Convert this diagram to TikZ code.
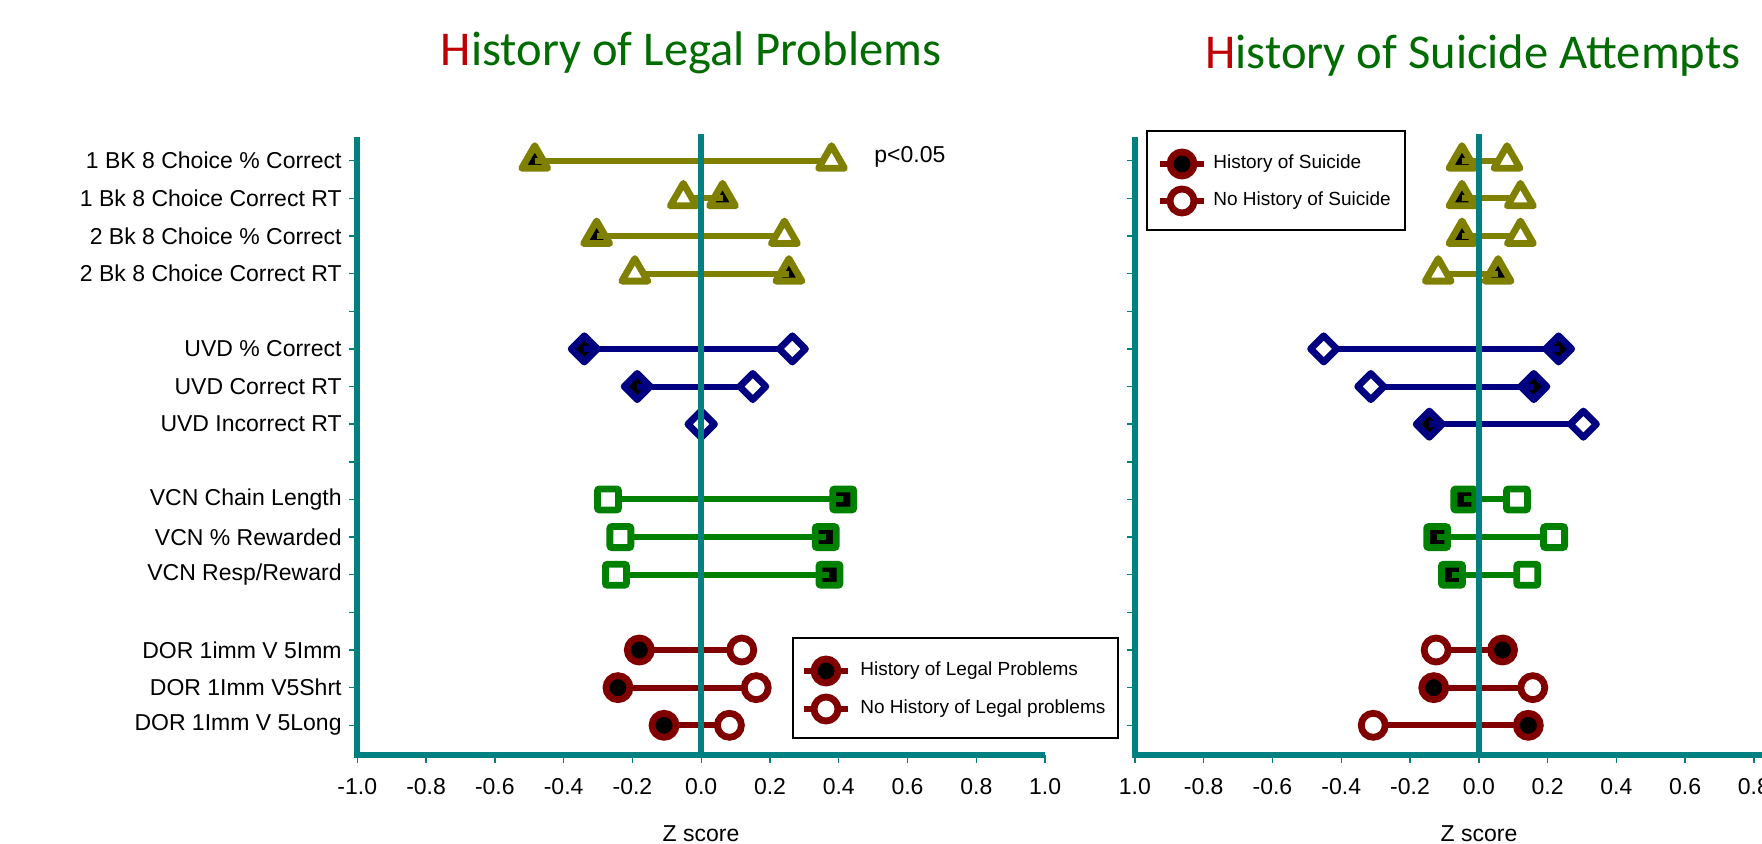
\documentclass[tikz,border=0pt]{standalone}
\usepackage{fontspec}
\setmainfont{Liberation Sans}
\newfontfamily\titlefont{Carlito}
\usepackage{tikz}
\usetikzlibrary{shapes.geometric, positioning}
\definecolor{axisteal}{HTML}{008080}
\definecolor{olive1}{HTML}{808000}
\definecolor{navy1}{HTML}{000080}
\definecolor{green1}{HTML}{008000}
\definecolor{red1}{HTML}{800000}
\definecolor{titlegreen}{HTML}{006B00}
\definecolor{titlered}{HTML}{C00000}

\begin{document}
\begin{tikzpicture}[
  x=0.5pt, y=-0.5pt,
  lbl/.style     = {font=\fontsize{11.5}{13}\selectfont, anchor=east, inner sep=0pt},
  ticklbl/.style = {font=\fontsize{11.5}{13}\selectfont, inner sep=0pt},
  ttl/.style     = {font=\titlefont\fontsize{24.3}{28}\selectfont, text=titlegreen, inner sep=0pt},
  axis/.style    = {draw=axisteal, line width=3pt},
  tickmark/.style= {draw=axisteal, line width=0.7pt},
  link/.style    = {line width=3pt},
  tri/.style     = {regular polygon, regular polygon sides=3, minimum size=15pt,
                    inner sep=0pt, line width=3.4pt, line join=round},
  dia/.style     = {diamond, minimum width=14.5pt, minimum height=14.5pt,
                    inner sep=0pt, line width=3.4pt, line join=round},
  sq/.style      = {rectangle, minimum size=10.5pt, inner sep=0pt,
                    line width=3.4pt, rounded corners=1pt},
  circ/.style    = {circle, minimum size=12pt, inner sep=0pt, line width=3.4pt},
  full/.style    = {fill=black},
  hollow/.style  = {fill=white},
  legbox/.style  = {draw=black, line width=0.6pt, fill=white},
  legtxt/.style  = {font=\fontsize{9.5}{11}\selectfont, anchor=west, inner sep=0pt}
]
\useasboundingbox[fill=white] (0,0) rectangle (1762,844);

% ── TITLES ──────────────────────────────────────────────
\node[ttl] (ttlL) at (691,53) {\textcolor{titlered}{H}istory of Legal Problems};
\node[ttl, anchor=east] (ttlR) at (1741,56) {\textcolor{titlered}{H}istory of Suicide Attempts};

% ── CATEGORY LABELS ─────────────────────────────────────
\foreach \r/\txt in {0/1 BK 8 Choice \% Correct, 1/1 Bk 8 Choice Correct RT,
    2/2 Bk 8 Choice \% Correct, 3/2 Bk 8 Choice Correct RT,
    5/UVD \% Correct, 6/UVD Correct RT, 7/UVD Incorrect RT,
    9/VCN Chain Length, 10/VCN \% Rewarded, 11/{VCN Resp/Reward},
    13/DOR 1imm V 5Imm, 14/DOR 1Imm V5Shrt, 15/DOR 1Imm V 5Long}
  \node[lbl] (cat\r) at (342,{160.7+37.64*\r}) {\txt};

% ── AXES ────────────────────────────────────────────────
\foreach \r in {0,...,15} {
  \draw[tickmark] (349,{160.7+37.64*\r}) -- (357,{160.7+37.64*\r});
  \draw[tickmark] (1127,{160.7+37.64*\r}) -- (1135,{160.7+37.64*\r});
}
\foreach \z/\txt in {-1/-1.0,-0.8/-0.8,-0.6/-0.6,-0.4/-0.4,-0.2/-0.2,0/0.0,
                     0.2/0.2,0.4/0.4,0.6/0.6,0.8/0.8,1/1.0} {
  \draw[tickmark] ({701.2+343.9*\z},755) -- ({701.2+343.9*\z},763);
  \node[ticklbl] at ({701.2+343.9*\z},787) {\txt};
}
\foreach \z/\txt in {-1/1.0,-0.8/-0.8,-0.6/-0.6,-0.4/-0.4,-0.2/-0.2,0/0.0,
                     0.2/0.2,0.4/0.4,0.6/0.6,0.8/0.8} {
  \draw[tickmark] ({1478.8+343.9*\z},755) -- ({1478.8+343.9*\z},763);
  \node[ticklbl] at ({1478.8+343.9*\z},787) {\txt};
}
\node[ticklbl] (zL) at (701,834)  {Z score};
\node[ticklbl] (zR) at (1479,834) {Z score};

% ── LEFT: LEGAL PROBLEMS ────────────────────────────────
\foreach \r/\zf/\zo in {0/-0.484/0.379, 1/0.062/-0.052, 2/-0.304/0.242, 3/0.255/-0.193} {
  \node[tri, full, draw=olive1] (Lf\r) at ({701.2+343.9*\zf},{160.7+37.64*\r}) {};
  \coordinate (Lo\r) at ({701.2+343.9*\zo},{160.7+37.64*\r});
  \draw[link, olive1] (Lf\r.center) -- (Lo\r);
  \node[tri, hollow, draw=olive1] at (Lo\r) {};
}
\foreach \r/\zf/\zo in {5/-0.34/0.265, 6/-0.186/0.150, 7/0.0/0.0} {
  \node[dia, full, draw=navy1] (Lf\r) at ({701.2+343.9*\zf},{160.7+37.64*\r}) {};
  \coordinate (Lo\r) at ({701.2+343.9*\zo},{160.7+37.64*\r});
  \draw[link, navy1] (Lf\r.center) -- (Lo\r);
  \node[dia, hollow, draw=navy1] at (Lo\r) {};
}
\foreach \r/\zf/\zo in {9/0.413/-0.271, 10/0.362/-0.235, 11/0.373/-0.248} {
  \node[sq, full, draw=green1] (Lf\r) at ({701.2+343.9*\zf},{160.7+37.64*\r}) {};
  \coordinate (Lo\r) at ({701.2+343.9*\zo},{160.7+37.64*\r});
  \draw[link, green1] (Lf\r.center) -- (Lo\r);
  \node[sq, hollow, draw=green1] at (Lo\r) {};
}
\foreach \r/\zf/\zo in {13/-0.18/0.118, 14/-0.242/0.16, 15/-0.108/0.082} {
  \coordinate (Lf\r) at ({701.2+343.9*\zf},{160.7+37.64*\r});
  \coordinate (Lo\r) at ({701.2+343.9*\zo},{160.7+37.64*\r});
  \draw[link, red1] (Lf\r) -- (Lo\r);
  \node[circ, full, draw=red1] at (Lf\r) {};
  \node[circ, hollow, draw=red1] at (Lo\r) {};
}
\node[ticklbl, anchor=west] (sig) at (874,157) {p<0.05};

% ── RIGHT: SUICIDE ATTEMPTS ─────────────────────────────
\foreach \r/\zf/\zo in {0/-0.049/0.082, 1/-0.049/0.121, 2/-0.049/0.121, 3/0.056/-0.118} {
  \node[tri, full, draw=olive1] (Rf\r) at ({1478.8+343.9*\zf},{160.7+37.64*\r}) {};
  \coordinate (Ro\r) at ({1478.8+343.9*\zo},{160.7+37.64*\r});
  \draw[link, olive1] (Rf\r.center) -- (Ro\r);
  \node[tri, hollow, draw=olive1] at (Ro\r) {};
}
\foreach \r/\zf/\zo in {5/0.232/-0.451, 6/0.16/-0.314, 7/-0.144/0.304} {
  \node[dia, full, draw=navy1] (Rf\r) at ({1478.8+343.9*\zf},{160.7+37.64*\r}) {};
  \coordinate (Ro\r) at ({1478.8+343.9*\zo},{160.7+37.64*\r});
  \draw[link, navy1] (Rf\r.center) -- (Ro\r);
  \node[dia, hollow, draw=navy1] at (Ro\r) {};
}
\foreach \r/\zf/\zo in {9/-0.042/0.111, 10/-0.121/0.219, 11/-0.078/0.141} {
  \node[sq, full, draw=green1] (Rf\r) at ({1478.8+343.9*\zf},{160.7+37.64*\r}) {};
  \coordinate (Ro\r) at ({1478.8+343.9*\zo},{160.7+37.64*\r});
  \draw[link, green1] (Rf\r.center) -- (Ro\r);
  \node[sq, hollow, draw=green1] at (Ro\r) {};
}
\foreach \r/\zf/\zo in {13/0.069/-0.124, 14/-0.131/0.157, 15/0.144/-0.307} {
  \coordinate (Rf\r) at ({1478.8+343.9*\zf},{160.7+37.64*\r});
  \coordinate (Ro\r) at ({1478.8+343.9*\zo},{160.7+37.64*\r});
  \draw[link, red1] (Rf\r) -- (Ro\r);
  \node[circ, full, draw=red1] at (Rf\r) {};
  \node[circ, hollow, draw=red1] at (Ro\r) {};
}

% ── AXIS LINES ──────────────────────────────────────────
\draw[axis] (357,137) -- (357,755) -- (1045,755);
\draw[axis] (701.2,134) -- (701.2,755);
\draw[axis] (1135,137) -- (1135,755) -- (1780,755);
\draw[axis] (1478.8,134) -- (1478.8,755);

% ── LEGENDS ─────────────────────────────────────────────
\draw[legbox] (793,638) rectangle (1118,738);
\draw[link, red1] (804,671) -- (848,671);
\node[circ, full, draw=red1] (legL1) at (826,671) {};
\node[legtxt, right=17pt of legL1.center] {History of Legal Problems};
\draw[link, red1] (804,709) -- (848,709);
\node[circ, hollow, draw=red1] (legL2) at (826,709) {};
\node[legtxt, right=17pt of legL2.center] {No History of Legal problems};

\draw[legbox] (1147,131) rectangle (1405,230);
\draw[link, red1] (1160,164) -- (1204,164);
\node[circ, full, draw=red1] (legR1) at (1182,164) {};
\node[legtxt, right=15.5pt of legR1.center] {History of Suicide};
\draw[link, red1] (1160,201) -- (1204,201);
\node[circ, hollow, draw=red1] (legR2) at (1182,201) {};
\node[legtxt, right=15.5pt of legR2.center] {No History of Suicide};

\end{tikzpicture}
\end{document}
